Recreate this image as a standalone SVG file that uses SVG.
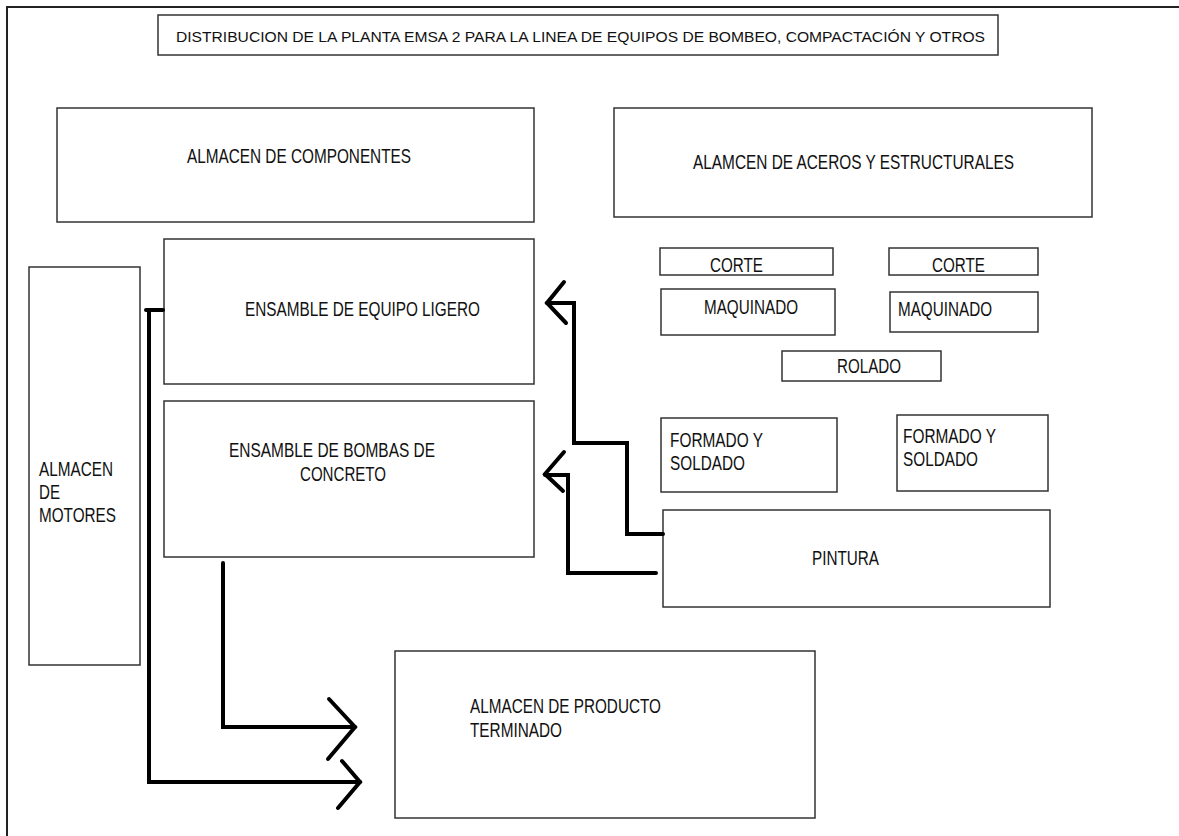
<svg xmlns="http://www.w3.org/2000/svg" width="1179" height="836" viewBox="0 0 1179 836">
<style>
.box{fill:#fff;stroke:#333;stroke-width:1.5}
.t{font-family:"Liberation Sans",Arial,sans-serif;font-size:19.5px;fill:#111}
.h{font-family:"Liberation Sans",Arial,sans-serif;font-size:15px;fill:#111}
.c{fill:none;stroke:#000;stroke-width:4;stroke-linecap:round;stroke-linejoin:miter}
</style>
<rect x="0" y="0" width="1179" height="836" fill="#fff"/>
<path d="M7 836 V7 H1179" fill="none" stroke="#222" stroke-width="2"/>
<g id="title"><rect class="box" x="158" y="15" width="840" height="40"/><text class="h" x="176" y="42" textLength="809" lengthAdjust="spacingAndGlyphs">DISTRIBUCION DE LA PLANTA EMSA 2 PARA LA LINEA DE EQUIPOS DE BOMBEO, COMPACTACIÓN Y OTROS</text></g>
<g id="almacen-componentes"><rect class="box" x="57" y="108" width="477" height="114"/><text class="t" x="187" y="163" textLength="224" lengthAdjust="spacingAndGlyphs">ALMACEN DE COMPONENTES</text></g>
<g id="almacen-aceros"><rect class="box" x="614" y="108" width="478" height="109"/><text class="t" x="693" y="169" textLength="321" lengthAdjust="spacingAndGlyphs">ALAMCEN DE ACEROS Y ESTRUCTURALES</text></g>
<g id="ensamble-ligero"><rect class="box" x="164" y="239" width="370" height="145"/><text class="t" x="245" y="316" textLength="235" lengthAdjust="spacingAndGlyphs">ENSAMBLE DE EQUIPO LIGERO</text></g>
<g id="ensamble-bombas"><rect class="box" x="164" y="401" width="370" height="156"/><text class="t" x="229" y="457" textLength="206" lengthAdjust="spacingAndGlyphs">ENSAMBLE DE BOMBAS DE</text><text class="t" x="300" y="481" textLength="86" lengthAdjust="spacingAndGlyphs">CONCRETO</text></g>
<g id="almacen-motores"><rect class="box" x="29" y="267" width="111" height="398"/><text class="t" x="39" y="476" textLength="74" lengthAdjust="spacingAndGlyphs">ALMACEN</text><text class="t" x="39" y="499" textLength="21" lengthAdjust="spacingAndGlyphs">DE</text><text class="t" x="39" y="522" textLength="77" lengthAdjust="spacingAndGlyphs">MOTORES</text></g>
<g id="corte1"><rect class="box" x="660" y="248" width="173" height="27"/><text class="t" x="710" y="272" textLength="53" lengthAdjust="spacingAndGlyphs">CORTE</text></g>
<g id="corte2"><rect class="box" x="889" y="248" width="149" height="27"/><text class="t" x="932" y="272" textLength="53" lengthAdjust="spacingAndGlyphs">CORTE</text></g>
<g id="maquinado1"><rect class="box" x="661" y="289" width="174" height="46"/><text class="t" x="704" y="314" textLength="94" lengthAdjust="spacingAndGlyphs">MAQUINADO</text></g>
<g id="maquinado2"><rect class="box" x="890" y="292" width="148" height="40"/><text class="t" x="898" y="316" textLength="94" lengthAdjust="spacingAndGlyphs">MAQUINADO</text></g>
<g id="rolado"><rect class="box" x="782" y="351" width="159" height="30"/><text class="t" x="837" y="373" textLength="64" lengthAdjust="spacingAndGlyphs">ROLADO</text></g>
<g id="formado1"><rect class="box" x="661" y="418" width="176" height="74"/><text class="t" x="670" y="447" textLength="93" lengthAdjust="spacingAndGlyphs">FORMADO Y</text><text class="t" x="670" y="470" textLength="75" lengthAdjust="spacingAndGlyphs">SOLDADO</text></g>
<g id="formado2"><rect class="box" x="897" y="415" width="151" height="76"/><text class="t" x="903" y="443" textLength="93" lengthAdjust="spacingAndGlyphs">FORMADO Y</text><text class="t" x="903" y="466" textLength="75" lengthAdjust="spacingAndGlyphs">SOLDADO</text></g>
<g id="pintura"><rect class="box" x="663" y="510" width="387" height="97"/><text class="t" x="812" y="565" textLength="67" lengthAdjust="spacingAndGlyphs">PINTURA</text></g>
<g id="almacen-producto"><rect class="box" x="395" y="651" width="420" height="167"/><text class="t" x="470" y="713" textLength="191" lengthAdjust="spacingAndGlyphs">ALMACEN DE PRODUCTO</text><text class="t" x="470" y="737" textLength="92" lengthAdjust="spacingAndGlyphs">TERMINADO</text></g>
<g id="connectors">
<path class="c" d="M663 534 H627 V443 H574 V303 H547"/>
<path class="c" d="M564 282 L547 303 L566 323"/>
<path class="c" d="M656 573 H568 V475 H545"/>
<path class="c" d="M564 452 L545 474 L563 491"/>
<path class="c" d="M146 310 H163 M149 310 V782 H360"/>
<path class="c" d="M342 761 L360 782 L338 808"/>
<path class="c" d="M223 563 V727 H355"/>
<path class="c" d="M329 699 L355 727 L328 759"/>
</g>
</svg>
